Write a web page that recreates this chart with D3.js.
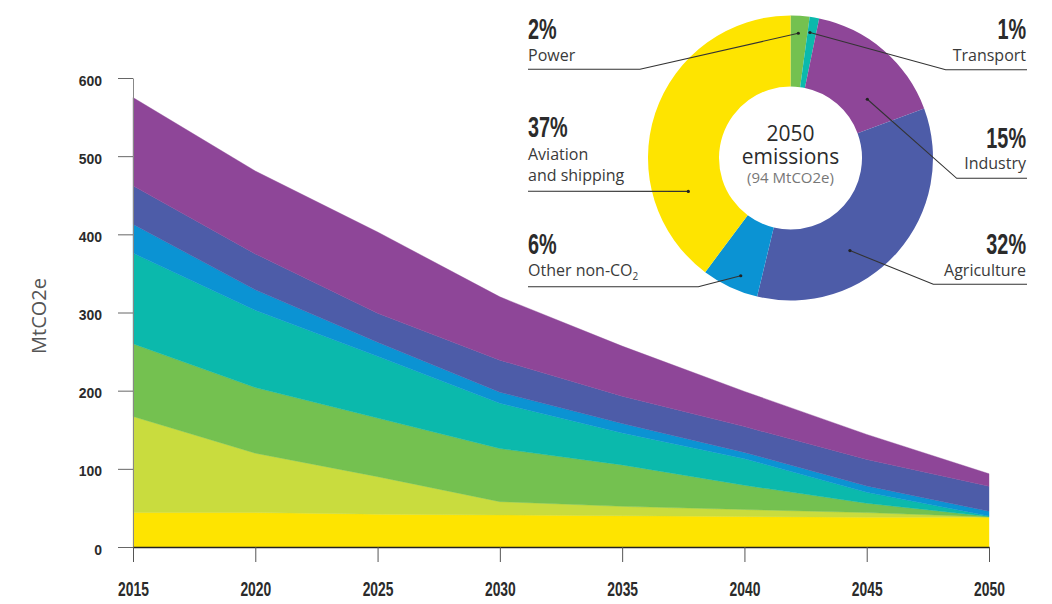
<!DOCTYPE html>
<html><head><meta charset="utf-8">
<script src="https://cdn.jsdelivr.net/npm/d3@7"></script>
<style>body{margin:0;background:#fff}svg{display:block}</style>
</head><body>
<svg id="c" width="1052" height="604"></svg>
<script>
// ---- data ----
const years = [2015, 2020, 2025, 2030, 2035, 2040, 2045, 2050];
const aviationShipping = [44, 44, 42, 41, 40, 39, 38, 38];
const buildings        = [123, 76, 48, 17, 12, 9, 6, 0.3];
const power            = [93, 84, 75, 68, 53, 31, 12, 0.7];
const transport        = [116, 99, 79, 58, 41, 34, 14, 0.7];
const otherNonCO2      = [37, 26, 18, 14, 12, 8, 8, 6];
const agriculture      = [49, 46, 37, 41, 35, 33, 34, 32];
const industry         = [113, 106, 104, 81, 64, 45, 32, 16];
const yTicks = [0, 100, 200, 300, 400, 500, 600];

const donutNames  = ["Power", "Transport", "Industry", "Agriculture", "Other non-CO2", "Aviation and shipping"];
const donutShares = [2, 1, 15, 32, 6, 37];
const donutTotal = 94;

// ---- styles ----
const colors = {
  aviationShipping: "#FEE400", buildings: "#C9DC3E", power: "#74C150",
  transport: "#0BB9AC", otherNonCO2: "#0B93D3", agriculture: "#4D5CA8", industry: "#8E4698"
};
const donutColors = [colors.power, colors.transport, colors.industry, colors.agriculture, colors.otherNonCO2, colors.aviationShipping];
const condFont = "'Liberation Sans', Arial, sans-serif";
const bodyFont = "'Open Sans', 'Noto Sans', sans-serif";

const svg = d3.select("#c");
const x = d3.scaleLinear().domain([2015, 2050]).range([133, 989]);
const y = d3.scaleLinear().domain([0, 600]).range([547, 78]);

function condense(sel, k) {
  sel.each(function () {
    const w = this.getComputedTextLength();
    this.setAttribute("textLength", w * k);
    this.setAttribute("lengthAdjust", "spacingAndGlyphs");
  });
}

// ---- stacked area ----
const keys = ["aviationShipping", "buildings", "power", "transport", "otherNonCO2", "agriculture", "industry"];
const series = { aviationShipping, buildings, power, transport, otherNonCO2, agriculture, industry };
const rows = years.map((yr, i) => {
  const r = { year: yr };
  keys.forEach(k => r[k] = series[k][i]);
  return r;
});
const stack = d3.stack().keys(keys)(rows);
const area = d3.area().x(d => x(d.data.year)).y0(d => y(d[0])).y1(d => y(d[1]));
svg.append("g").selectAll("path").data(stack).join("path")
  .attr("d", area).attr("fill", d => colors[d.key])
  .attr("stroke", d => colors[d.key]).attr("stroke-width", 0.4);

// ---- axes ----
const gy = svg.append("g").attr("transform", "translate(133,0)")
  .call(d3.axisLeft(y).tickValues(yTicks).tickSize(15).tickPadding(16).tickSizeOuter(0));
gy.select(".domain").attr("stroke", "#888");
gy.selectAll(".tick line").attr("stroke", "#666");
gy.selectAll(".tick text").attr("dy", 7).attr("fill", "#2b2b2b")
  .style("font-family", condFont).style("font-weight", "bold").style("font-size", "15px");
condense(gy.selectAll(".tick text"), 0.93);

const gx = svg.append("g").attr("transform", "translate(0,547)")
  .call(d3.axisBottom(x).tickValues(years).tickFormat(d3.format("d")).tickSize(15).tickSizeOuter(0));
gx.select(".domain").attr("stroke", "#222").attr("stroke-width", 1.6);
gx.selectAll(".tick line").attr("stroke", "#555");
gx.selectAll(".tick text").attr("y", 49).attr("dy", 0).attr("fill", "#2b2b2b")
  .style("font-family", condFont).style("font-weight", "bold").style("font-size", "21px");
condense(gx.selectAll(".tick text"), 0.66);

svg.append("text").attr("transform", "translate(46,316) rotate(-90)")
  .attr("text-anchor", "middle").attr("fill", "#555")
  .style("font-family", bodyFont).style("font-size", "20px").text("MtCO2e");

// ---- donut ----
const cx = 790.5, cy = 158, rOut = 142.5, rIn = 71.5;
const pie = d3.pie().sort(null).value(d => d)(donutShares);
const arc = d3.arc().innerRadius(rIn).outerRadius(rOut);
const gd = svg.append("g").attr("transform", `translate(${cx},${cy})`);
gd.selectAll("path").data(pie).join("path").attr("d", arc).attr("fill", (d, i) => donutColors[i]);

gd.append("text").attr("y", -17).attr("text-anchor", "middle").attr("fill", "#2b2b2b")
  .style("font-family", bodyFont).style("font-size", "21px").text("2050");
gd.append("text").attr("y", 5.5).attr("text-anchor", "middle").attr("fill", "#2b2b2b")
  .style("font-family", bodyFont).style("font-size", "21px").text("emissions");
gd.append("text").attr("y", 25).attr("text-anchor", "middle").attr("fill", "#777")
  .style("font-family", bodyFont).style("font-size", "15px").text(`(${donutTotal} MtCO2e)`);

// ---- donut labels ----
const layout = [
  { side: "L", pctY: 39.3, nameY: [61],       lineY: 69.3,  elbow: 640,   ang: 3.6,   r: 125 },
  { side: "R", pctY: 39.3, nameY: [61],       lineY: 69.7,  elbow: 945.7, ang: 8.8,   r: 127 },
  { side: "R", pctY: 148.3, nameY: [169.3],   lineY: 178.3, elbow: 956.7, ang: 52.6,  r: 96.7 },
  { side: "R", pctY: 254, nameY: [276],       lineY: 284.3, elbow: 933.3, ang: 147.3, r: 110 },
  { side: "L", pctY: 254, nameY: [276],       lineY: 286.7, elbow: 698.3, ang: 202.9, r: 127.8 },
  { side: "L", pctY: 137.3, nameY: [160, 181], lineY: 191.3, elbow: null, ang: 251.9, r: 107.5 }
];
const nameLines = [["Power"], ["Transport"], ["Industry"], ["Agriculture"], ["Other non-CO"], ["Aviation", "and shipping"]];
const gl = svg.append("g");
layout.forEach((L, i) => {
  const tx = L.side === "L" ? 528 : 1026;
  const anchor = L.side === "L" ? "start" : "end";
  const pct = gl.append("text").attr("x", tx).attr("y", L.pctY).attr("text-anchor", anchor)
    .attr("fill", "#2b2b2b").style("font-family", condFont).style("font-weight", "bold")
    .style("font-size", "30px").text(donutShares[i] + "%");
  condense(pct, 0.66);
  nameLines[i].forEach((ln, j) => {
    const t = gl.append("text").attr("x", tx).attr("y", L.nameY[j]).attr("text-anchor", anchor)
      .attr("fill", "#3a3a3a").style("font-family", bodyFont).style("font-size", "16px").text(ln);
    if (i === 4) t.append("tspan").attr("dy", 4).style("font-size", "10px").text("2");
  });
  const a = L.ang * Math.PI / 180;
  const dx = cx + L.r * Math.sin(a), dy = cy - L.r * Math.cos(a);
  const x0 = L.side === "L" ? 528 : 1027;
  const pts = [[x0, L.lineY]];
  if (L.elbow !== null) pts.push([L.elbow, L.lineY]);
  pts.push([dx, dy]);
  gl.append("path").attr("d", d3.line()(pts)).attr("fill", "none")
    .attr("stroke", "#333").attr("stroke-width", 1.1);
  gl.append("circle").attr("cx", dx).attr("cy", dy).attr("r", 1.6).attr("fill", "#222");
});
</script>
</body></html>
